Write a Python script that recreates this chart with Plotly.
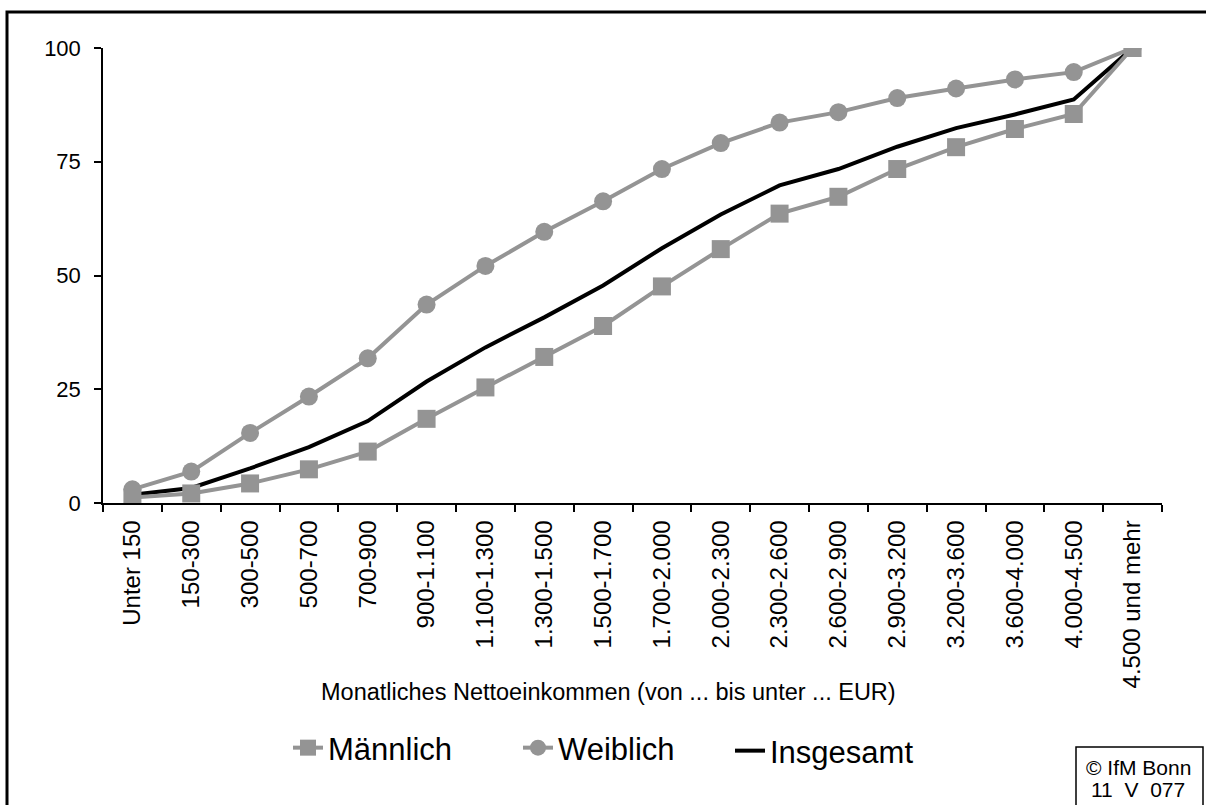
import plotly.graph_objects as go

categories = ["Unter 150", "150-300", "300-500", "500-700", "700-900", "900-1.100",
              "1.100-1.300", "1.300-1.500", "1.500-1.700", "1.700-2.000", "2.000-2.300",
              "2.300-2.600", "2.600-2.900", "2.900-3.200", "3.200-3.600", "3.600-4.000",
              "4.000-4.500", "4.500 und mehr"]
maennlich = [1.2, 2.1, 4.3, 7.4, 11.3, 18.5, 25.4, 32.1, 38.9, 47.6, 55.8, 63.6,
             67.3, 73.4, 78.2, 82.2, 85.5, 100.0]
weiblich = [3.0, 6.9, 15.4, 23.4, 31.8, 43.6, 52.1, 59.6, 66.3, 73.4, 79.1, 83.6,
            85.9, 89.0, 91.1, 93.1, 94.7, 100.0]
insgesamt = [1.8, 3.3, 7.6, 12.3, 18.0, 26.7, 34.2, 40.8, 47.8, 56.0, 63.4, 69.8,
             73.4, 78.3, 82.4, 85.4, 88.7, 100.0]
y_ticks = [0, 25, 50, 75, 100]

W, H = 1206, 805
L, R, T, B = 103, 1162, 48, 503
GRAY = "#949494"
FONT = "Arial, Liberation Sans, Helvetica, sans-serif"


def px(x):
    return (x - L) / (R - L)


def py(y):
    return (B - y) / (B - T)


fig = go.Figure()
fig.add_trace(go.Scatter(x=categories, y=insgesamt, name="Insgesamt", mode="lines",
                         line=dict(color="black", width=4), legend="legend3",
                         showlegend=True))
fig.add_trace(go.Scatter(x=categories, y=weiblich, name="Weiblich", mode="lines+markers",
                         line=dict(color=GRAY, width=4),
                         marker=dict(symbol="circle", size=18, color=GRAY),
                         legend="legend2", showlegend=True))
fig.add_trace(go.Scatter(x=categories, y=maennlich, name="Männlich", mode="lines+markers",
                         line=dict(color=GRAY, width=4),
                         marker=dict(symbol="square", size=18, color=GRAY),
                         legend="legend", showlegend=True))

leg_common = dict(orientation="h", xref="container", yref="container",
                  xanchor="left", yanchor="middle", bgcolor="rgba(0,0,0,0)",
                  font=dict(family=FONT, size=31, color="black"), itemsizing="trace",
                  visible=True)

fig.update_layout(
    width=W, height=H, showlegend=True,
    margin=dict(l=L, r=W - R, t=T, b=H - B, autoexpand=False),
    paper_bgcolor="white", plot_bgcolor="white",
    font=dict(family=FONT, color="black"),
    legend=dict(x=288 / W, y=1 - 748 / H, **leg_common),
    legend2=dict(x=518 / W, y=1 - 748 / H, **leg_common),
    legend3=dict(x=730 / W, y=1 - 751 / H, **leg_common),
    xaxis=dict(type="category", range=[-0.5, len(categories) - 0.5],
               tickson="boundaries", ticks="outside", ticklen=7, tickwidth=1.5,
               tickcolor="black", showline=True, linecolor="black", linewidth=1.5,
               showgrid=False, zeroline=False, tickangle=-90,
               tickfont=dict(family=FONT, size=24, color="black"),
               ticklabelstandoff=6),
    yaxis=dict(range=[0, 100], tickvals=y_ticks, ticks="outside", ticklen=7,
               tickwidth=1.5, tickcolor="black", showline=True, linecolor="black",
               linewidth=1.5, showgrid=False, zeroline=False,
               tickfont=dict(family=FONT, size=22, color="black"),
               ticklabelstandoff=9),
    shapes=[
        dict(type="rect", xref="paper", yref="paper", x0=px(7), x1=px(1225),
             y0=py(825), y1=py(12), line=dict(color="black", width=3)),
        dict(type="rect", xref="paper", yref="paper", x0=px(1076), x1=px(1203),
             y0=py(825), y1=py(747), line=dict(color="black", width=1.5)),
    ],
    annotations=[
        dict(text="Monatliches Nettoeinkommen (von ... bis unter ... EUR)",
             xref="paper", yref="paper", x=px(608), y=py(692), showarrow=False,
             xanchor="center", yanchor="middle",
             font=dict(family=FONT, size=23.5, color="black")),
        dict(text="© IfM Bonn", xref="paper", yref="paper",
             x=px(1138), y=py(767), showarrow=False, xanchor="center", yanchor="middle",
             font=dict(family=FONT, size=21, color="black")),
        dict(text="11\u00a0 V\u00a0 077", xref="paper", yref="paper",
             x=px(1138), y=py(789), showarrow=False, xanchor="center", yanchor="middle",
             font=dict(family=FONT, size=21, color="black")),
    ],
)

fig.write_html("out.html", config={"displayModeBar": False},
               post_script="document.body.style.margin='0';document.body.style.overflow='hidden';")
